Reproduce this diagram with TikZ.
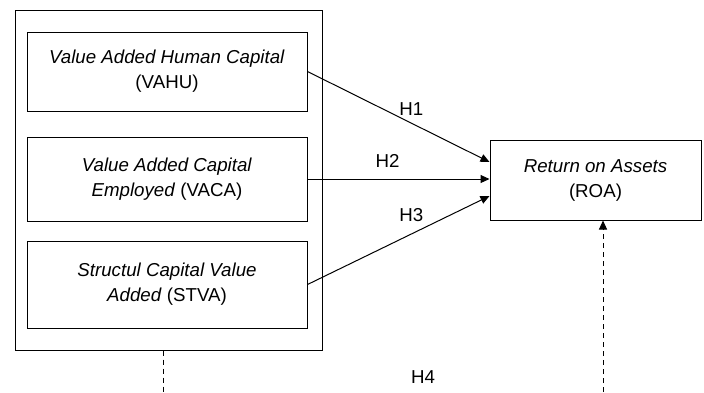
\documentclass[tikz,border=0pt]{standalone}
\usepackage{fontspec}
\setmainfont{Liberation Sans}
\usetikzlibrary{arrows.meta}

\newcommand\boxfont{\fontsize{18.7}{25}\selectfont}

\begin{document}
\begin{tikzpicture}[x=1pt, y=-1pt, line width=1pt,
	hyp/.style={-{Triangle[length=9pt, width=8pt]}},
	link/.style={dash pattern=on 5pt off 4pt}]

	\useasboundingbox (0,0) rectangle (704,392);

	%% The outer group holding the three predictors
	\node at (168.5,180) [draw, rectangle, minimum width=307pt, minimum height=340pt] (grp) {};

	%% The three predictor boxes, stacked inside the group
	\begin{scope}[every node/.style={draw, rectangle, align=center, minimum width=280pt, font=\boxfont}]
		\node at (167,71.5) [minimum height=79pt] (vahu) {\textit{Value Added Human Capital}\\(VAHU)};
		\node at (167,179) [minimum height=84pt] (vaca) {\textit{Value Added Capital}\\\textit{Employed} (VACA)};
		\node at (167,284.5) [minimum height=87pt] (stva) {\textit{Structul Capital Value}\\\textit{Added} (STVA)};
	\end{scope}

	%% The outcome box
	\node at (595.5,180) [draw, rectangle, align=center, minimum width=211pt, minimum height=80pt, font=\boxfont] (roa) {\textit{Return on Assets}\\(ROA)};

	%% Hypotheses H1 - H3
	\begin{scope}[every node/.style={font=\boxfont}]
		\draw[hyp] (vahu.east) -- ([yshift=18pt]roa.west) node[pos=0.57, above=4pt] (h1) {H1};
		\draw[hyp] (vaca.east) -- (vaca.east -| roa.west) node[pos=0.44, above=8pt] (h2) {H2};
		\draw[hyp] (stva.east) -- ([yshift=-16pt]roa.west) node[pos=0.57, above=9pt] (h3) {H3};

		%% H4: the group as a whole, running below the picture
		\coordinate (b1) at (163,392);
		\coordinate (b2) at (603,392);
		\draw[link] (b1 |- grp.south) -- (b1);
		\draw[link, hyp] (b2) -- (b2 |- roa.south);
		\node at (423,377) (h4) {H4};
	\end{scope}

\end{tikzpicture}
\end{document}
